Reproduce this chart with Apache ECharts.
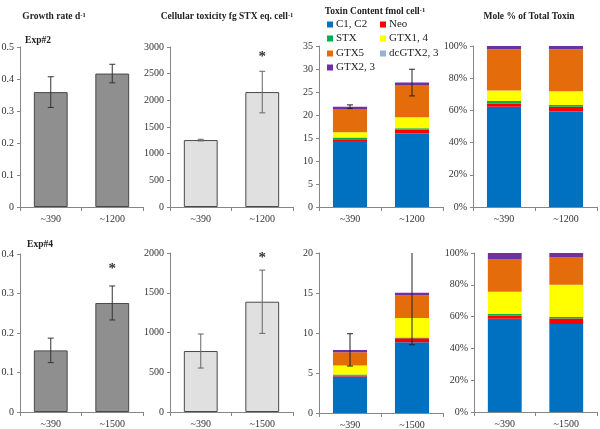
<!DOCTYPE html>
<html><head><meta charset="utf-8">
<script src="https://cdn.jsdelivr.net/npm/echarts@6/dist/echarts.min.js"></script>
<style>html,body{margin:0;padding:0;background:#fff}#c{width:600px;height:429px}</style>
</head><body><div id="c"></div>
<script>
// ---------- data ----------
var catsTop = ["~390", "~1200"];
var catsBot = ["~390", "~1500"];

var growth2 = [0.359, 0.417];
var growth2Err = [0.048, 0.029];
var growth4 = [0.156, 0.276];
var growth4Err = [0.031, 0.043];

var tox2 = [1255, 2155];
var tox2Err = [15, 390];
var tox4 = [767, 1387];
var tox4Err = [214, 398];

var toxinNames = ["C1, C2", "Neo", "STX", "GTX1, 4", "GTX5", "dcGTX2, 3", "GTX2, 3"];
var toxinColors = ["#0070C0", "#FF0000", "#00B050", "#FFFF00", "#E46C0A", "#95B3D7", "#7030A0"];

// toxin content fmol/cell (per toxin, per treatment)
var c12_2 = [14.35, 16.0];
var neo_2 = [0.4, 0.8];
var stx_2 = [0.35, 0.3];
var gtx14_2 = [1.15, 2.4];
var gtx5_2 = [5.05, 7.0];
var dc_2 = [0, 0];
var gtx23_2 = [0.5, 0.55];
var content2Err = [0.4, 2.9];

var c12_4 = [4.55, 8.85];
var neo_4 = [0.15, 0.5];
var stx_4 = [0.1, 0.08];
var gtx14_4 = [1.13, 2.43];
var gtx5_4 = [1.67, 2.83];
var dc_4 = [0, 0];
var gtx23_4 = [0.29, 0.34];
var content4Err = [2.02, 6.5];

// mole % of total toxin
var mc12_2 = [62.3, 59.3];
var mneo_2 = [1.9, 2.9];
var mstx_2 = [1.6, 1.2];
var mgtx14_2 = [6.5, 8.5];
var mgtx5_2 = [25.7, 26.05];
var mdc_2 = [0, 0];
var mgtx23_2 = [2.0, 2.05];

var mc12_4 = [58.6, 55.4];
var mneo_4 = [1.9, 3.4];
var mstx_4 = [1.2, 0.9];
var mgtx14_4 = [13.9, 20.3];
var mgtx5_4 = [20.6, 17.5];
var mdc_4 = [0, 0];
var mgtx23_4 = [3.8, 2.5];

var sig2 = [null, 2812];   // asterisk positions (value units)
var sigG4 = [null, 0.362];
var sigT4 = [null, 1941];

// ---------- helpers ----------
var FONT = "Liberation Serif";
var content2 = [c12_2, neo_2, stx_2, gtx14_2, gtx5_2, dc_2, gtx23_2];
var content4 = [c12_4, neo_4, stx_4, gtx14_4, gtx5_4, dc_4, gtx23_4];
var mole2 = [mc12_2, mneo_2, mstx_2, mgtx14_2, mgtx5_2, mdc_2, mgtx23_2];
var mole4 = [mc12_4, mneo_4, mstx_4, mgtx14_4, mgtx5_4, mdc_4, mgtx23_4];
function totals(arrs) {
  return [0, 1].map(function (i) { return arrs.reduce(function (s, a) { return s + a[i]; }, 0); });
}

var grids = [
  {left: 20, top: 47, width: 123, height: 160},
  {left: 170, top: 47, width: 123, height: 160},
  {left: 319, top: 46, width: 124, height: 161},
  {left: 473, top: 46, width: 124, height: 161},
  {left: 20, top: 254, width: 123, height: 158},
  {left: 170, top: 253, width: 123, height: 159},
  {left: 319, top: 253, width: 124, height: 160},
  {left: 474, top: 253, width: 123, height: 159}
].map(function (g) { g.outerBoundsMode = 'none'; g.containLabel = false; return g; });

var axisLine = {show: true, lineStyle: {color: '#868686', width: 1}};
function xAx(i, cats) {
  return {type: 'category', gridIndex: i, data: cats, boundaryGap: true,
    axisLine: axisLine, axisTick: {show: true, inside: false, length: 4, alignWithLabel: false, lineStyle: {color: '#868686'}},
    axisLabel: {fontFamily: FONT, fontSize: 10, color: '#333', margin: 7}};
}
function yAx(i, max, interval, fmt) {
  return {type: 'value', gridIndex: i, min: 0, max: max, interval: interval,
    axisLine: axisLine, axisTick: {show: true, length: 3, lineStyle: {color: '#868686'}},
    splitLine: {show: false},
    axisLabel: {fontFamily: FONT, fontSize: 10, color: '#333', margin: 6,
      formatter: fmt || function (v) { return String(v); }}};
}

function errSeries(i, means, errs, color, clip) {
  return {type: 'custom', xAxisIndex: i, yAxisIndex: i, clip: !!clip, z: 10,
    data: means.map(function (m, k) { return [k, m - errs[k], m + errs[k]]; }),
    renderItem: function (params, api) {
      var lo = api.coord([api.value(0), api.value(1)]);
      var hi = api.coord([api.value(0), api.value(2)]);
      var x = lo[0], w = 3;
      var st = {stroke: color, lineWidth: 1};
      return {type: 'group', children: [
        {type: 'line', shape: {x1: x, y1: lo[1], x2: x, y2: hi[1]}, style: st},
        {type: 'line', shape: {x1: x - w, y1: lo[1], x2: x + w, y2: lo[1]}, style: st},
        {type: 'line', shape: {x1: x - w, y1: hi[1], x2: x + w, y2: hi[1]}, style: st}
      ]};
    }};
}
function starSeries(i, pos) {
  var d = [];
  pos.forEach(function (v, k) { if (v != null) d.push([k, v]); });
  return {type: 'custom', xAxisIndex: i, yAxisIndex: i, z: 11, data: d,
    renderItem: function (params, api) {
      var p = api.coord([api.value(0), api.value(1)]);
      return {type: 'text', x: p[0], y: p[1],
        style: {text: '*', fontFamily: FONT, fontSize: 15, fontWeight: 'bold', fill: '#333', align: 'center', verticalAlign: 'middle'}};
    }};
}
function simpleBar(i, vals, fill, border) {
  return {type: 'bar', xAxisIndex: i, yAxisIndex: i, data: vals, barWidth: '55%',
    itemStyle: {color: fill, borderColor: border, borderWidth: 1}};
}
function stackBars(i, arrs) {
  return arrs.map(function (a, k) {
    return {type: 'bar', name: toxinNames[k], xAxisIndex: i, yAxisIndex: i, stack: 's' + i, data: a,
      barWidth: '55%', itemStyle: {color: toxinColors[k]}};
  });
}

var series = [];
series.push(simpleBar(0, growth2, '#8F8F8F', '#4A4A4A'));
series.push(errSeries(0, growth2, growth2Err, '#333'));
series.push(simpleBar(1, tox2, '#E0E0E0', '#4A4A4A'));
series.push(errSeries(1, tox2, tox2Err, '#666'));
series.push(starSeries(1, sig2));
series = series.concat(stackBars(2, content2));
series.push(errSeries(2, totals(content2), content2Err, '#222'));
series = series.concat(stackBars(3, mole2));
series.push(simpleBar(4, growth4, '#8F8F8F', '#4A4A4A'));
series.push(errSeries(4, growth4, growth4Err, '#333'));
series.push(starSeries(4, sigG4));
series.push(simpleBar(5, tox4, '#E0E0E0', '#4A4A4A'));
series.push(errSeries(5, tox4, tox4Err, '#666'));
series.push(starSeries(5, sigT4));
series = series.concat(stackBars(6, content4));
series.push(errSeries(6, totals(content4), content4Err, '#222', true));
series = series.concat(stackBars(7, mole4));

var pct = function (v) { return v + '%'; };

// legend rows (two columns)
var legendPos = [
  {n: 0, left: 327, top: 19}, {n: 1, left: 380, top: 19},
  {n: 2, left: 327, top: 33}, {n: 3, left: 380, top: 33},
  {n: 4, left: 327, top: 48}, {n: 5, left: 380, top: 48},
  {n: 6, left: 327, top: 62}
];
var legends = legendPos.map(function (p) {
  return {data: [toxinNames[p.n]], left: p.left, top: p.top, orient: 'horizontal', padding: 0,
    itemWidth: 6, itemHeight: 6, itemGap: 3, icon: 'rect', selectedMode: false,
    textStyle: {fontFamily: FONT, fontSize: 11, color: '#222', padding: [0, 0, 0, -2]}};
});

// panel titles (real text, superscript via rich text)
var titleRich = {
  t: {fontFamily: FONT, fontSize: 9.5, fontWeight: 'bold', fill: '#222', color: '#222'},
  s: {fontFamily: FONT, fontSize: 6.5, fontWeight: 'bold', fill: '#222', color: '#222', verticalAlign: 'top', padding: [0, 0, 4, 0]}
};
var titles = [
  {parts: ['Growth rate d', '-1'], x: 54, y: 17},
  {parts: ['Cellular toxicity fg STX eq. cell', '-1'], x: 227, y: 17},
  {parts: ['Toxin Content fmol cell', '-1'], x: 375, y: 12},
  {parts: ['Mole % of Total Toxin', ''], x: 529, y: 17},
  {parts: ['Exp#2', ''], x: 38, y: 41},
  {parts: ['Exp#4', ''], x: 40, y: 245}
];
var graphic = titles.map(function (t) {
  var txt = '{t|' + t.parts[0] + '}' + (t.parts[1] ? '{s|' + t.parts[1] + '}' : '');
  return {type: 'text', x: t.x, y: t.y, silent: true,
    style: {text: txt, align: 'center', verticalAlign: 'middle', rich: titleRich,
      fontFamily: FONT, fontSize: 9.5, fontWeight: 'bold', fill: '#222'}};
});

var option = {
  animation: false,
  backgroundColor: '#fff',
  graphic: graphic,
  legend: legends,
  grid: grids,
  xAxis: [xAx(0, catsTop), xAx(1, catsTop), xAx(2, catsTop), xAx(3, catsTop),
          xAx(4, catsBot), xAx(5, catsBot), xAx(6, catsBot), xAx(7, catsBot)],
  yAxis: [yAx(0, 0.5, 0.1), yAx(1, 3000, 500), yAx(2, 35, 5), yAx(3, 100, 20, pct),
          yAx(4, 0.4, 0.1), yAx(5, 2000, 500), yAx(6, 20, 5), yAx(7, 100, 20, pct)],
  series: series
};
var chart = echarts.init(document.getElementById('c'), null, {renderer: 'canvas'});
chart.setOption(option);
</script></body></html>
